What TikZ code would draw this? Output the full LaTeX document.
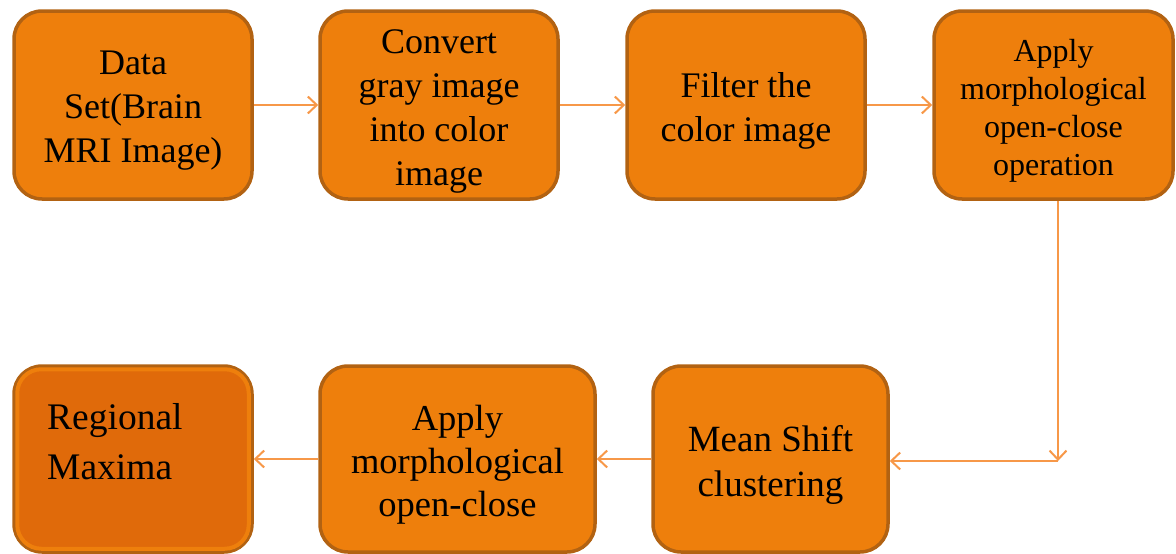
\documentclass[tikz,border=0pt]{standalone}
\usepackage{fontspec}
\setmainfont{Liberation Serif}
\usetikzlibrary{arrows.meta}
\definecolor{boxfill}{RGB}{238,127,12}
\definecolor{boxline}{RGB}{178,98,18}
\definecolor{arrowc}{RGB}{247,152,72}
\definecolor{darkfill}{RGB}{224,106,10}
\tikzset{
  stepbox/.style={draw=boxline, line width=3.5pt, fill=boxfill, rounded corners=28pt,
    inner sep=0pt, minimum width=238pt, minimum height=188pt},
  steptext/.style={align=center, inner sep=0pt, yshift=-6pt,
    font=\fontsize{36}{44}\selectfont},
  flow/.style={draw=arrowc, line width=2pt, -{Straight Barb[length=9pt,width=17pt,line width=2pt]}}
}
\begin{document}
\begin{tikzpicture}[x=1pt,y=-1pt]
  \useasboundingbox (0,0) rectangle (1176,554);
  % top row
  \node[stepbox] (box1) at (133,105) {};
  \node[steptext] (t1) at (box1.center) {Data\\Set(Brain\\MRI Image)};
  \node[stepbox] (box2) at (439,105) {};
  \node[steptext] (t2) at (box2.center) {Convert\\gray image\\into color\\image};
  \node[stepbox] (box3) at (746,105) {};
  \node[steptext] (t3) at (box3.center) {Filter the\\color image};
  \node[stepbox, minimum width=239pt] (box4) at (1053.5,105) {};
  \node[steptext, font=\fontsize{32}{38}\selectfont] (t4) at (box4.center)
    {Apply\\morphological\\open-close\\operation};
  % bottom row
  \node[stepbox, minimum width=275pt, minimum height=186pt] (box6) at (457.5,459) {};
  \node[steptext, font=\fontsize{36.5}{43}\selectfont] (t6) at (box6.center)
    {Apply\\morphological\\open-close};
  \node[stepbox, minimum width=235pt, minimum height=186pt] (box7) at (770.5,459) {};
  \node[steptext, font=\fontsize{37}{45}\selectfont] (t7) at (box7.center)
    {Mean Shift\\clustering};
  \node[stepbox, fill=darkfill, minimum height=186pt] (box5) at (133,459) {};
  \draw[boxfill, line width=4pt, rounded corners=24pt]
    ([shift={(5pt,-5pt)}]box5.north west) rectangle ([shift={(-5pt,5pt)}]box5.south east);
  \node[anchor=north west, align=left, inner sep=0pt, font=\fontsize{37.5}{50}\selectfont]
    (t5) at (47,403) {Regional\\Maxima};
  % connectors
  \coordinate (corner) at (1058,461);
  \draw[flow] (box1) -- (box2);
  \draw[flow] (box2) -- (box3);
  \draw[flow] (box3) -- (box4);
  \draw[flow] (box4.south -| corner) -- (corner);
  \draw[flow] (corner) -- (box7.east |- corner);
  \draw[flow] (box7) -- (box6);
  \draw[flow] (box6) -- (box5);
\end{tikzpicture}
\end{document}
